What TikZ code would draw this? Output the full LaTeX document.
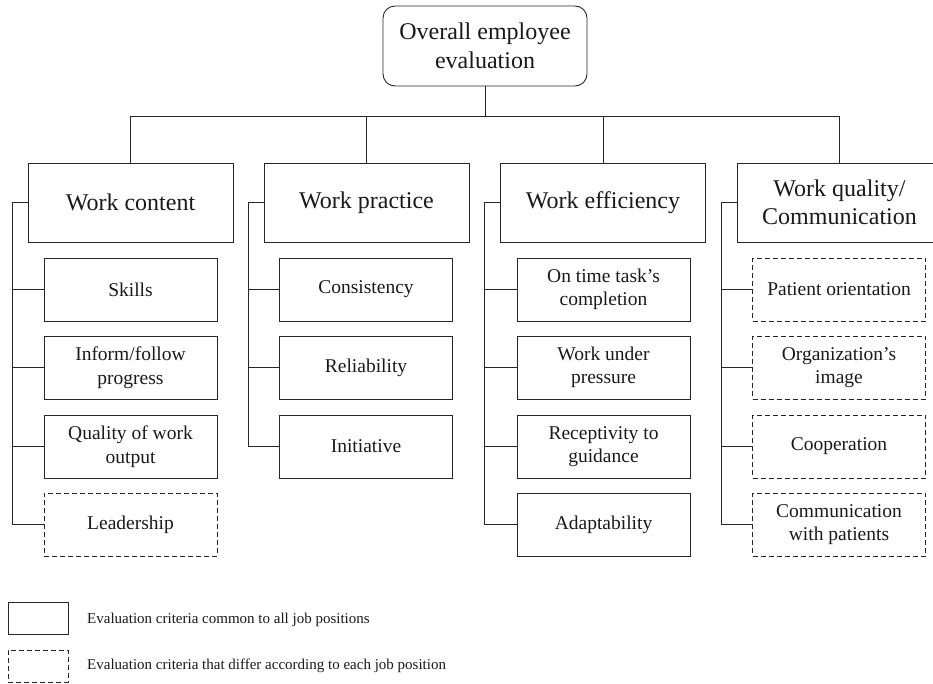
\documentclass[tikz,border=0pt]{standalone}
\usepackage{fontspec}
\setmainfont{Liberation Serif}
\tikzset{
  ln/.style={line width=0.9pt, draw=black!85},
  top/.style={ln, rounded corners=12pt, minimum width=204pt, minimum height=80pt,
    inner sep=0pt, outer sep=0pt, align=center, font=\fontsize{24}{29}\selectfont},
  head/.style={ln, minimum width=205pt, minimum height=79pt,
    inner sep=0pt, outer sep=0pt, align=center, font=\fontsize{24}{27.5}\selectfont},
  crit/.style={ln, minimum width=173pt, minimum height=63pt,
    inner sep=0pt, outer sep=0pt, align=center, font=\fontsize{19.5}{23.5}\selectfont},
  critvar/.style={crit, dash pattern=on 5pt off 3pt},
  legbox/.style={ln, minimum width=60pt, minimum height=32pt, inner sep=0pt, outer sep=0pt},
  legtxt/.style={anchor=west, inner sep=0pt, font=\fontsize{15}{18}\selectfont}
}
\begin{document}
\begin{tikzpicture}[x=1pt, y=-1pt, text=black!90]
  \useasboundingbox (0,0) rectangle (933,683);
  \node[top] (root) at (485,46) {Overall employee\\evaluation};

  \node[head] (wc) at (130.5,202.5) {Work content};
  \node[head] (wp) at (366.5,202.5) {Work practice};
  \node[head] (we) at (603,202.5) {Work efficiency};
  \node[head] (wq) at (839.5,202.5) {Work quality/\\Communication};

  \node[crit] (wc1) at (130.5,289.5) {Skills};
  \node[crit] (wc2) at (130.5,367.5) {Inform/follow\\progress};
  \node[crit] (wc3) at (130.5,446.5) {Quality of work\\output};
  \node[critvar] (wc4) at (130.5,524.5) {Leadership};

  \node[crit] (wp1) at (366,289.5) {Consistency};
  \node[crit] (wp2) at (366,367.5) {Reliability};
  \node[crit] (wp3) at (366,446.5) {Initiative};

  \node[crit] (we1) at (603.5,289.5) {On time task's\\completion};
  \node[crit] (we2) at (603.5,367.5) {Work under\\pressure};
  \node[crit] (we3) at (603.5,446.5) {Receptivity to\\guidance};
  \node[crit] (we4) at (603.5,524.5) {Adaptability};

  \node[critvar] (wq1) at (839,289.5) {Patient orientation};
  \node[critvar] (wq2) at (839,367.5) {Organization's\\image};
  \node[critvar] (wq3) at (839,446.5) {Cooperation};
  \node[critvar] (wq4) at (839,524.5) {Communication\\with patients};

  \node[legbox] (l1) at (38,618) {};
  \node[legbox, dash pattern=on 5pt off 3pt] (l2) at (38,666) {};
  \node[legtxt] (t1) at (87,620) {Evaluation criteria common to all job positions};
  \node[legtxt] (t2) at (87,666) {Evaluation criteria that differ according to each job position};

  \begin{scope}[ln]
    \draw (root.south) -- ++(0,30) coordinate (bus) -| (wc.north);
    \draw (bus) -| (wp.north);
    \draw (bus) -| (we.north);
    \draw (bus) -| (wq.north);

    \draw (wc.west) -- ++(-16,0) coordinate (a) |- (wc4.west);
    \draw (a |- wc1.west) -- (wc1.west);
    \draw (a |- wc2.west) -- (wc2.west);
    \draw (a |- wc3.west) -- (wc3.west);

    \draw (wp.west) -- ++(-16,0) coordinate (b) |- (wp3.west);
    \draw (b |- wp1.west) -- (wp1.west);
    \draw (b |- wp2.west) -- (wp2.west);

    \draw (we.west) -- ++(-16,0) coordinate (c) |- (we4.west);
    \draw (c |- we1.west) -- (we1.west);
    \draw (c |- we2.west) -- (we2.west);
    \draw (c |- we3.west) -- (we3.west);

    \draw (wq.west) -- ++(-16,0) coordinate (d) |- (wq4.west);
    \draw (d |- wq1.west) -- (wq1.west);
    \draw (d |- wq2.west) -- (wq2.west);
    \draw (d |- wq3.west) -- (wq3.west);
  \end{scope}
\end{tikzpicture}
\end{document}
